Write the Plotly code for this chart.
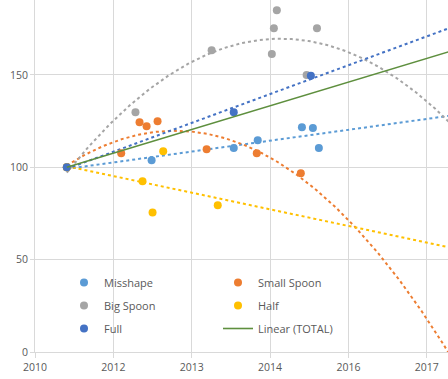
import numpy as np
import plotly.graph_objects as go

# ---- data (x = Excel serial dates, y = values) ----
misshape_x = [40703, 41244, 41768, 41921, 42203, 42273, 42311]
misshape_y = [100, 103.8, 110.5, 114.6, 121.7, 121.3, 110.5]

small_x = [40703, 41050, 41167, 41212, 41282, 41595, 41915, 42196]
small_y = [100, 107.6, 124.4, 122.2, 124.9, 109.8, 107.6, 96.8]

big_x = [40703, 41141, 41627, 42011, 42024, 42043, 42233, 42299]
big_y = [100, 129.8, 163.4, 161.4, 175.3, 185, 150, 175.3]

half_x = [40703, 41186, 41250, 41318, 41666]
half_y = [100, 92.4, 75.6, 108.7, 79.4]

full_x = [40703, 41768, 42260]
full_y = [100, 129.8, 149.6]

total_x = [40703, 41768, 42260]
total_y = [100, 127.3, 140.0]

tick_vals = [40500, 41000, 41500, 42000, 42500, 43000]
tick_text = ["2010", "2012", "2013", "2014", "2016", "2017"]
y_ticks = [0, 50, 100, 150]

X_MIN, X_MAX = 40500, 43135
Y_MAX = 190.6

colors = {
    "Misshape": "#5B9BD5",
    "Small Spoon": "#ED7D31",
    "Big Spoon": "#A5A5A5",
    "Half": "#FFC000",
    "Full": "#4472C4",
}

series = [
    ("Misshape", misshape_x, misshape_y, 1, "legend"),
    ("Small Spoon", small_x, small_y, 2, "legend2"),
    ("Big Spoon", big_x, big_y, 2, "legend"),
    ("Half", half_x, half_y, 1, "legend2"),
    ("Full", full_x, full_y, 1, "legend"),
]

fig = go.Figure()

# white backdrop behind legend (covers gridlines, not traces)
fig.add_shape(type="rect", xref="paper", yref="paper",
              x0=(66 - 35) / 413, x1=(346 - 35) / 413,
              y0=(352 - 341) / 352, y1=(352 - 272) / 352,
              fillcolor="white", line_width=0, layer="between")

# trendlines first (under markers)
for name, xs, ys, deg, lg in series:
    xa = np.array(xs, float)
    ya = np.array(ys, float)
    xc = xa.mean()
    coef = np.polyfit(xa - xc, ya, deg)
    tx = np.linspace(xa.min(), X_MAX + 50, 300)
    ty = np.polyval(coef, tx - xc)
    fig.add_trace(go.Scatter(x=tx, y=ty, mode="lines", showlegend=False,
                             hoverinfo="skip",
                             line=dict(color=colors[name], width=2, dash="dot")))

for i, (name, xs, ys, deg, lg) in enumerate(series):
    fig.add_trace(go.Scatter(x=xs, y=ys, mode="markers", name=name,
                             legend=lg, legendgroup=name,
                             marker=dict(color=colors[name], size=8)))

# total linear trendline
xa = np.array(total_x, float)
ya = np.array(total_y, float)
coef = np.polyfit(xa - xa.mean(), ya, 1)
tx = np.linspace(xa.min(), X_MAX + 50, 100)
ty = np.polyval(coef, tx - xa.mean())
fig.add_trace(go.Scatter(x=tx, y=ty, mode="lines", name="Linear (TOTAL)",
                         legend="legend2", legendgroup="total",
                         line=dict(color="#5E8F3E", width=1.6)))

leg_common = dict(orientation="v", yanchor="top", xanchor="left",
                  bgcolor="rgba(0,0,0,0)", traceorder="grouped",
                  tracegroupgap=4,
                  font=dict(size=11, color="#595959"))

fig.update_layout(
    width=448, height=379,
    margin=dict(l=35, r=0, t=0, b=27),
    paper_bgcolor="white", plot_bgcolor="white",
    font=dict(family="Open Sans, sans-serif", size=10, color="#595959"),
    showlegend=True,
    legend=dict(x=(64 - 35) / 413, y=(352 - 268) / 352, **leg_common),
    legend2=dict(x=(218 - 35) / 413, y=(352 - 268) / 352, **leg_common),
    xaxis=dict(range=[X_MIN, X_MAX], tickvals=tick_vals, ticktext=tick_text,
               showgrid=True, gridcolor="#D9D9D9", gridwidth=1,
               zeroline=False, showline=True, linecolor="#D9D9D9",
               ticks="outside", ticklen=5, tickcolor="#D9D9D9",
               automargin=False,
               tickfont=dict(size=10.5, color="#595959")),
    yaxis=dict(range=[0, Y_MAX], tickvals=y_ticks,
               showgrid=True, gridcolor="#D9D9D9", gridwidth=1,
               zeroline=False, showline=True, linecolor="#D9D9D9",
               ticks="outside", ticklen=4, tickcolor="#D9D9D9",
               automargin=False,
               tickfont=dict(size=10.5, color="#595959")),
)

fig.write_html("out.html", config={"displayModeBar": False},
               post_script="document.body.style.margin='0';")
